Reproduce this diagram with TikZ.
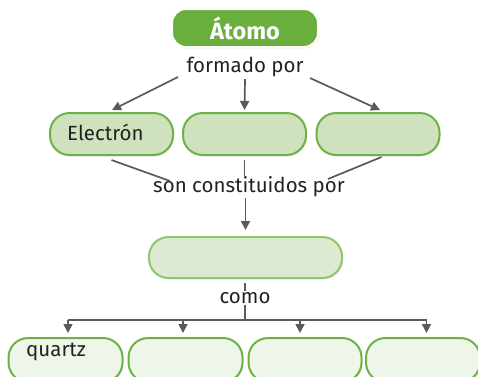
\documentclass[tikz,border=0pt]{standalone}
\usepackage{fontspec}
\setmainfont{Fira Sans}
\usetikzlibrary{arrows.meta,shadows}
\definecolor{dkgreen}{HTML}{6AAE3E}
\definecolor{bordgreen}{HTML}{6DB247}
\definecolor{fillA}{HTML}{CFE2BD}
\definecolor{fillB}{HTML}{DDEAD1}
\definecolor{bordB}{HTML}{8EC66C}
\definecolor{fillC}{HTML}{EEF5E9}
\definecolor{linegray}{HTML}{5A5A5A}
\definecolor{txt}{HTML}{222222}
\tikzset{
  box/.style={rounded corners=19.5pt, line width=2pt, draw=bordgreen, inner sep=0pt,
    drop shadow={opacity=0.12, shadow xshift=1.2pt, shadow yshift=-1.5pt}},
  topbox/.style={box, rounded corners=14pt, fill=dkgreen, draw=white, minimum width=146pt, minimum height=38pt,
    text=white, font=\fontsize{23.5}{27}\selectfont\bfseries},
  midbox/.style={box, fill=fillA, minimum width=123pt, minimum height=42pt},
  bigbox/.style={box, fill=fillB, draw=bordB, minimum width=193pt, minimum height=41pt},
  lowbox/.style={box, fill=fillC, minimum width=114pt, minimum height=44pt},
  lbl/.style={text=txt, font=\fontsize{20.5}{24}\selectfont, inner sep=1pt},
  conn/.style={draw=linegray, line width=1.7pt},
  arr/.style={conn, -{Triangle[length=9pt,width=9pt]}},
}
\begin{document}
\begin{tikzpicture}[x=1pt,y=-1pt]
\useasboundingbox (0,0) rectangle (478,376);
\clip (0,0) rectangle (478,376);
% nodes
\node[topbox] (atomo) at (245,28) {Átomo};
\node[lbl] (fp) at (245,67) {formado por};
\node[midbox] (e1) at (111.5,134) {};
\node[midbox] (e2) at (244.5,134) {};
\node[midbox] (e3) at (378,134) {};
\node[lbl, anchor=west] (electron) at (66,132) {Electrón};
\node[lbl] (son) at (249,187) {son constituidos por};
\node[bigbox] (big) at (245.5,257.5) {};
\node[lbl] (como) at (245,298) {como};
\node[lowbox] (b1) at (65.5,360) {};
\node[lowbox, minimum width=114pt] (b2) at (185.5,360) {};
\node[lowbox, minimum width=113pt] (b3) at (305,360) {};
\node[lowbox, minimum width=114pt] (b4) at (423,360) {};
\node[lbl, anchor=west] (quartz) at (25,352) {quartz};
% connectors
\coordinate (fl) at (178,77);
\coordinate (fr) at (310,78);
\draw[arr] (fl) -- ([xshift=0.5pt,yshift=2pt]e1.north);
\draw[arr] ([yshift=-1pt]fp.south) -- ([yshift=2pt]e2.north);
\draw[arr] (fr) -- ([xshift=2pt,yshift=2pt]e3.north);
\coordinate (sl) at (170,181);
\coordinate (sr) at (328,179);
\draw[conn] ([yshift=-4pt]e1.south) -- (sl);
\draw[conn] ([yshift=-4pt]e2.south) -- ([yshift=-20pt]e2.south);
\draw[conn] ([xshift=3.5pt,yshift=-1pt]e3.south) -- (sr);
\draw[arr] (son.south -| big.north) -- ([yshift=6pt]big.north);
\draw[conn] ([xshift=-0.5pt,yshift=-4pt]big.south) -- (como.north);
\coordinate (hub) at (245,320);
\draw[conn] (como.south) -- (hub);
\draw[arr] ([xshift=2.5pt]b1.north |- hub) -- ([xshift=2.5pt,yshift=4pt]b1.north);
\draw[arr] ([xshift=-2.5pt]b2.north |- hub) -- ([xshift=-2.5pt,yshift=4pt]b2.north);
\draw[arr] ([xshift=-5pt]b3.north |- hub) -- ([xshift=-5pt,yshift=4pt]b3.north);
\draw[arr] ([xshift=3.5pt]b4.north |- hub) -- ([xshift=3.5pt,yshift=4pt]b4.north);
\draw[conn] ([xshift=2.5pt]b1.north |- hub) -- ([xshift=3.5pt]b4.north |- hub);
\end{tikzpicture}
\end{document}
